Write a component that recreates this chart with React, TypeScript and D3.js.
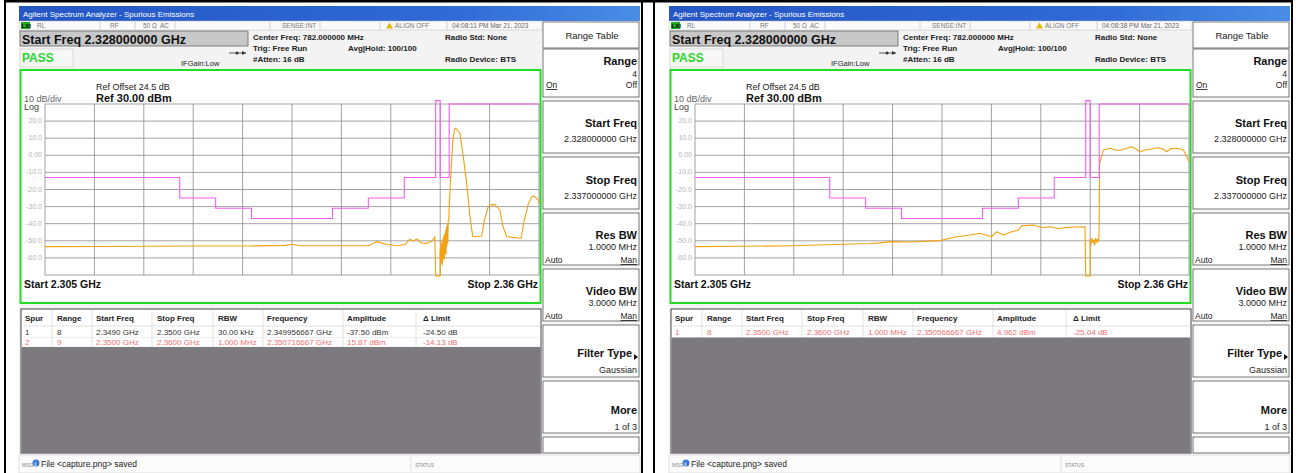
import * as d3 from 'd3';

type Pt = [number, number];

// sweep / display settings
const startGHz = 2.305;
const stopGHz = 2.36;
const refLevel = 30;
const dbPerDiv = 10;

const yTickValues = [20, 10, 0, -10, -20, -30, -40, -50, -60];
const yTickLabels = ['20.0', '10.0', '0.00', '-10.0', '-20.0', '-30.0', '-40.0', '-50.0', '-60.0'];

// limit line, [GHz, dBm], step after
const limitSteps: Pt[] = [
  [2.305, -13], [2.32, -25], [2.324, -31], [2.328, -37], [2.337, -31], [2.341, -25],
  [2.345, -13], [2.3485, 32], [2.349, -13], [2.35, 30], [2.36, 30],
];

// trace of first capture
const traceA: Pt[] = [
  [2.305, -53.4], [2.3111, -53.3], [2.3167, -53.2], [2.3223, -53.0], [2.3278, -53.0], [2.3317, -52.7],
  [2.3326, -52.0], [2.3334, -52.9], [2.3378, -52.9], [2.341, -52.9], [2.3419, -50.5], [2.3429, -51.9],
  [2.3442, -52.9], [2.3451, -52.2], [2.3456, -49.1], [2.346, -50.1], [2.3464, -48.9], [2.3469, -51.3],
  [2.3475, -51.5], [2.3481, -50.1], [2.3484, -47.6], [2.3485, -70.5], [2.349, -70.5], [2.349, -55],
  [2.34905, -62], [2.3491, -50], [2.34915, -63], [2.3492, -52], [2.34925, -64], [2.3493, -49],
  [2.34935, -60], [2.3494, -47], [2.34945, -61], [2.3495, -46], [2.34955, -57], [2.3496, -44],
  [2.34965, -58], [2.3497, -42], [2.34975, -53], [2.3498, -40], [2.34985, -51], [2.3499, -38],
  [2.34996, -37.5], [2.35, -30], [2.3502, -10], [2.3504, 8], [2.3506, 15.3], [2.35072, 15.87],
  [2.3509, 14.8], [2.3512, 12.9], [2.35157, -0.8], [2.35195, -16.4], [2.35232, -35.9], [2.35262, -47.6],
  [2.35362, -47.2], [2.35393, -37.8], [2.35436, -30], [2.35474, -28.7], [2.3551, -29], [2.35566, -32],
  [2.35599, -41.8], [2.35641, -47.6], [2.35777, -48.4], [2.358, -48.5], [2.35837, -37.8], [2.35878, -29],
  [2.35919, -24.2], [2.35945, -23.8], [2.35989, -26.1], [2.36, -28],
];

// trace of second capture
const traceB: Pt[] = [
  [2.305, -53.4], [2.3105, -53.2], [2.31594, -52.9], [2.32151, -52.0], [2.32448, -51.6], [2.3256, -51.2],
  [2.32671, -50.5], [2.32894, -50.7], [2.33228, -49.9], [2.33414, -47.6], [2.33562, -46.6], [2.33673, -45.6],
  [2.33803, -47.6], [2.33859, -44.7], [2.33933, -46.6], [2.34026, -44.7], [2.341, -43.7], [2.34137, -41.3],
  [2.34267, -40.8], [2.34363, -42.2], [2.34453, -41.8], [2.34542, -42.8], [2.34638, -42.3], [2.34731, -41.9],
  [2.34842, -41.8], [2.3485, -70.5], [2.349, -70.5], [2.349, -49], [2.3491, -52], [2.3492, -48.5],
  [2.3493, -51], [2.3494, -49.5], [2.3495, -52.5], [2.3496, -48.5], [2.3497, -51], [2.3498, -49],
  [2.3499, -50.5], [2.34998, -48], [2.35005, -4.7], [2.35046, 3.1], [2.35121, 4.1], [2.35199, 2.8],
  [2.35265, 3.4], [2.35362, 5.0], [2.3541, 3.7], [2.35455, 2.1], [2.3551, 3.1], [2.35566, 3.5],
  [2.35658, 4.4], [2.3571, 3.7], [2.35752, 2.1], [2.358, 4.0], [2.35863, 4.1], [2.35937, 3.1],
  [2.35967, 0.2], [2.36, -3.7],
];

const tableHeaders = ['Spur', 'Range', 'Start Freq', 'Stop Freq', 'RBW', 'Frequency', 'Amplitude', 'Δ Limit'];
const spursA = [
  ['1', '8', '2.3490 GHz', '2.3500 GHz', '30.00 kHz', '2.349956667 GHz', '-37.50 dBm', '-24.50 dB'],
  ['2', '9', '2.3500 GHz', '2.3600 GHz', '1.000 MHz', '2.350716667 GHz', '15.87 dBm', '-14.13 dB'],
];
const spursAPink = [false, true];
const spursB = [
  ['1', '8', '2.3500 GHz', '2.3600 GHz', '1.000 MHz', '2.350566667 GHz', '4.962 dBm', '-25.04 dB'],
];
const spursBPink = [true];
const timestamps = ['04:08:11 PM Mar 21, 2023', '04:08:38 PM Mar 21, 2023'];

const FONT = '"Liberation Sans", Arial, sans-serif';
const colX = [25, 57, 96, 157, 218, 267, 347, 423];
const colSep = [52, 92, 152, 213, 263, 343, 416];
const keyTops = [101, 157, 213, 269, 325, 381];

interface PanelProps {
  dx: number;
  time: string;
  trace: Pt[];
  spurs: string[][];
  pink: boolean[];
}

const Panel = ({ dx, time, trace, spurs, pink }: PanelProps) => {
  const x = d3.scaleLinear().domain([startGHz, stopGHz]).range([45, 539]);
  const y = d3.scaleLinear().domain([refLevel, refLevel - 10 * dbPerDiv]).range([104, 275]);
  const line = d3.line<Pt>().x(d => x(d[0])).y(d => y(d[1]));
  const step = d3.line<Pt>().x(d => x(d[0])).y(d => y(d[1])).curve(d3.curveStepAfter);
  const xGrid = d3.range(11).map(i => startGHz + (i * (stopGHz - startGHz)) / 10);
  const yGrid = d3.range(11).map(i => refLevel - i * dbPerDiv);
  const greyTop = 328 + spurs.length * 9.5;

  const keyLabel = (t: string, yy: number) => (
    <text x={637} y={yy} textAnchor="end" fontSize={11} fontWeight="bold" fill="#111">{t}</text>
  );
  const keyValue = (t: string, yy: number) => (
    <text x={637} y={yy} textAnchor="end" fontSize={9} fill="#222">{t}</text>
  );

  return (
    <g transform={`translate(${dx},0)`} fontFamily={FONT}>
      {/* screen background */}
      <rect x={19} y={6} width={621} height={467} fill="#f3f3f3" />
      {/* title bar */}
      <defs>
        <linearGradient id={`tb${dx}`} x1="0" x2="1" y1="0" y2="0">
          <stop offset="0" stopColor="#2456c4" />
          <stop offset="0.7" stopColor="#2f6ad6" />
          <stop offset="1" stopColor="#4a8de6" />
        </linearGradient>
      </defs>
      <rect x={19} y={6} width={621} height={15} fill={`url(#tb${dx})`} />
      <text x={23} y={17} fontSize={8} fill="#fff">Agilent Spectrum Analyzer - Spurious Emissions</text>

      {/* status row */}
      <rect x={19} y={21} width={523} height={9} fill="#fafafa" stroke="#bbb" strokeWidth={0.5} />
      <rect x={21} y={22} width={9} height={7} fill="#2a2" />
      <text x={21.5} y={28} fontSize={6} fontWeight="bold" fill="#000">LXI</text>
      {[
        ['RL', 37], ['RF', 110], ['50 Ω', 143], ['AC', 160], ['SENSE:INT', 282], ['ALIGN OFF', 395],
      ].map(([t, xx]) => (
        <text key={t as string} x={xx as number} y={28} fontSize={6.5} fill="#777">{t}</text>
      ))}
      <path d="M386,28.5 L389.5,22.5 L393,28.5 Z" fill="#e8b400" />
      <text x={452} y={28} fontSize={6.5} fill="#666">{time}</text>
      {[100, 135, 175, 270, 320, 380, 447].map(s => (
        <line key={s} x1={s} x2={s} y1={21.5} y2={29.5} stroke="#bbb" strokeWidth={0.6} />
      ))}

      {/* start freq box */}
      <rect x={20} y={31} width={228} height={15} fill="#c8c8c8" stroke="#666" strokeWidth={0.8} />
      <text x={22} y={43.5} fontSize={12.5} fontWeight="bold" fill="#111">Start Freq 2.328000000 GHz</text>
      <rect x={20} y={49} width={53} height={18} fill="#f7f7f7" stroke="#ccc" strokeWidth={0.6} />
      <text x={22} y={62} fontSize={12} fontWeight="bold" fill="#2bd52b">PASS</text>
      <line x1={229} x2={246} y1={53} y2={53} stroke="#333" strokeWidth={0.8} />
      <circle cx={237} cy={53} r={1.5} fill="#333" />
      <path d="M246,53 L242,51 L242,55 Z" fill="#333" />
      <text x={181} y={66} fontSize={7.5} fill="#222">IFGain:Low</text>
      <text x={253} y={40} fontSize={8} fontWeight="bold" fill="#222">Center Freq: 782.000000 MHz</text>
      <text x={253} y={51} fontSize={8} fontWeight="bold" fill="#222">Trig: Free Run</text>
      <text x={253} y={62} fontSize={8} fontWeight="bold" fill="#222">#Atten: 16 dB</text>
      <text x={348} y={51} fontSize={8} fontWeight="bold" fill="#222">Avg|Hold: 100/100</text>
      <text x={445} y={40} fontSize={8} fontWeight="bold" fill="#222">Radio Std: None</text>
      <text x={445} y={62} fontSize={8} fontWeight="bold" fill="#222">Radio Device: BTS</text>

      {/* graticule area */}
      <rect x={20.5} y={70} width={520} height={233} fill="#fff" stroke="#22dd22" strokeWidth={2} />
      <text x={96} y={90} fontSize={9} fill="#222">Ref Offset 24.5 dB</text>
      <text x={24} y={102} fontSize={9} fill="#666">10 dB/div</text>
      <text x={96} y={102} fontSize={11} fontWeight="bold" fill="#111">Ref 30.00 dBm</text>
      <text x={24} y={110} fontSize={9} fill="#444">Log</text>
      {xGrid.map((g, i) => (
        <line key={`vx${i}`} x1={x(g)} x2={x(g)} y1={104} y2={275} stroke="#8a8a8a" strokeWidth={0.8} />
      ))}
      {yGrid.map((g, i) => (
        <line key={`hy${i}`} x1={45} x2={539} y1={y(g)} y2={y(g)} stroke="#8a8a8a" strokeWidth={0.8} />
      ))}
      {yTickValues.map((v, i) => (
        <text key={`yl${i}`} x={42} y={y(v) + 2} textAnchor="end" fontSize={7} fill="#b4b4b4">{yTickLabels[i]}</text>
      ))}
      <path d={line(trace) ?? ''} fill="none" stroke="#f3a10e" strokeWidth={1.1} strokeLinejoin="round" />
      <path d={step(limitSteps) ?? ''} fill="none" stroke="#f45cf4" strokeWidth={1.1} />
      <text x={24} y={288} fontSize={10.5} fontWeight="bold" fill="#111">Start  2.305 GHz</text>
      <text x={538} y={288} textAnchor="end" fontSize={10.5} fontWeight="bold" fill="#111">Stop 2.36 GHz</text>

      {/* spur table */}
      <rect x={21} y={309} width={520} height={144} fill="#fff" stroke="#444" strokeWidth={1} />
      {colSep.map(s => (
        <line key={`cs${s}`} x1={s} x2={s} y1={310} y2={greyTop} stroke="#ccc" strokeWidth={0.6} />
      ))}
      <line x1={21} x2={541} y1={326} y2={326} stroke="#ccc" strokeWidth={0.6} />
      {tableHeaders.map((h, i) => (
        <text key={h} x={colX[i]} y={321} fontSize={8} fontWeight="bold" fill="#222">{h}</text>
      ))}
      {spurs.map((row, r) => (
        <g key={`row${r}`}>
          <line x1={21} x2={541} y1={328 + (r + 1) * 9.5} y2={328 + (r + 1) * 9.5} stroke="#ddd" strokeWidth={0.5} />
          {row.map((c, i) => (
            <text key={i} x={colX[i]} y={335 + r * 9.5} fontSize={8} fill={pink[r] ? '#f07070' : '#333'}>{c}</text>
          ))}
        </g>
      ))}
      <rect x={21.5} y={greyTop} width={519} height={453 - greyTop} fill="#7d7a7f" />

      {/* softkeys */}
      <rect x={542} y={21} width={98} height={435} fill="#f6f6f6" />
      <rect x={543} y={22} width={96} height={26} fill="#fff" stroke="#555" strokeWidth={0.8} />
      <text x={592} y={39} textAnchor="middle" fontSize={9.5} fill="#222">Range Table</text>
      <rect x={543} y={49} width={96} height={48} fill="#fff" stroke="#555" strokeWidth={0.8} />
      {keyLabel('Range', 65)}
      <text x={637} y={77} textAnchor="end" fontSize={8.5} fill="#222">4</text>
      <text x={546} y={88} fontSize={8.5} fill="#222" textDecoration="underline">On</text>
      <text x={637} y={88} textAnchor="end" fontSize={8.5} fill="#222">Off</text>
      {keyTops.map(t => (
        <rect key={`k${t}`} x={543} y={t} width={96} height={52} fill="#fff" stroke="#555" strokeWidth={0.8} />
      ))}
      <rect x={543} y={437} width={96} height={16} fill="#fff" stroke="#555" strokeWidth={0.8} />
      {keyLabel('Start Freq', 127)}
      {keyValue('2.328000000 GHz', 142)}
      {keyLabel('Stop Freq', 184)}
      {keyValue('2.337000000 GHz', 199)}
      {keyLabel('Res BW', 239)}
      {keyValue('1.0000 MHz', 250)}
      <text x={545} y={263} fontSize={8.5} fill="#222">Auto</text>
      <text x={637} y={263} textAnchor="end" fontSize={8.5} fill="#222" textDecoration="underline">Man</text>
      {keyLabel('Video BW', 295)}
      {keyValue('3.0000 MHz', 306)}
      <text x={545} y={319} fontSize={8.5} fill="#222">Auto</text>
      <text x={637} y={319} textAnchor="end" fontSize={8.5} fill="#222" textDecoration="underline">Man</text>
      <text x={632} y={357} textAnchor="end" fontSize={11} fontWeight="bold" fill="#111">Filter Type</text>
      <path d="M634,354 L638,357 L634,360 Z" fill="#111" />
      {keyValue('Gaussian', 373)}
      {keyLabel('More', 414)}
      {keyValue('1 of 3', 430)}

      {/* message bar */}
      <rect x={19} y={455} width={621} height={18} fill="#fbfbfb" stroke="#ccc" strokeWidth={0.6} />
      <text x={22} y={467} fontSize={5} fill="#888">MSG</text>
      <circle cx={36} cy={463} r={3.5} fill="#3b7bd8" />
      <text x={34.5} y={466} fontSize={6} fontWeight="bold" fill="#fff">i</text>
      <text x={41} y={467} fontSize={8.5} fill="#222">File &lt;capture.png&gt; saved</text>
      <line x1={411} x2={411} y1={456} y2={472} stroke="#ccc" strokeWidth={0.6} />
      <text x={415} y={467} fontSize={5} fill="#888">STATUS</text>
    </g>
  );
};

const App = () => {
  return (
    <svg
      width={1306}
      height={473}
      style={{ position: 'absolute', left: 0, top: 0, background: '#fff' }}
    >
      <rect x={0} y={0} width={1306} height={473} fill="#fff" />
      <Panel dx={0} time={timestamps[0]} trace={traceA} spurs={spursA} pink={spursAPink} />
      <Panel dx={650} time={timestamps[1]} trace={traceB} spurs={spursB} pink={spursBPink} />
      {/* outer frame */}
      <rect x={4} y={0} width={1289} height={2.5} fill="#000" />
      <rect x={4} y={0} width={2} height={473} fill="#000" />
      <rect x={641} y={0} width={2} height={473} fill="#000" />
      <rect x={653} y={0} width={2} height={473} fill="#000" />
      <rect x={1291} y={0} width={2} height={473} fill="#000" />
    </svg>
  );
};

export default App;
